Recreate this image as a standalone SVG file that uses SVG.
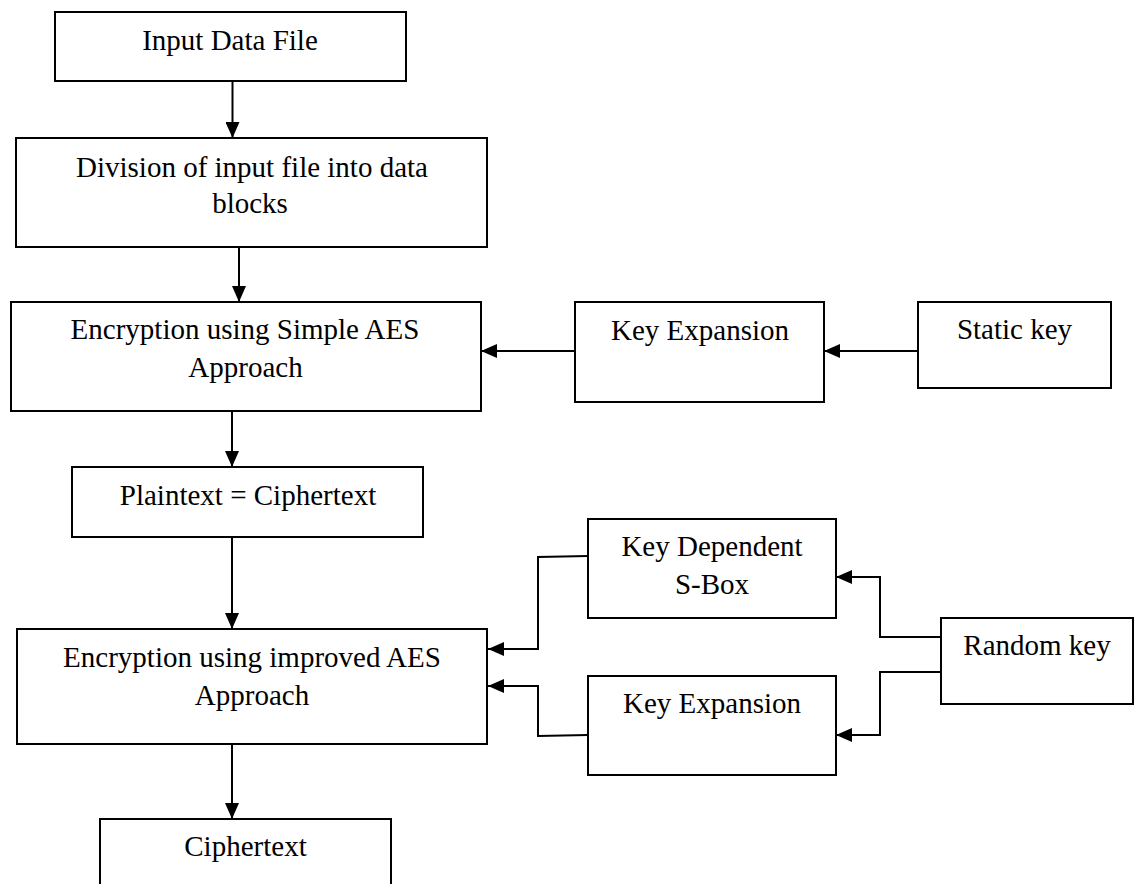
<svg xmlns="http://www.w3.org/2000/svg" width="1137" height="884" viewBox="0 0 1137 884">
<style>
.box{fill:#fff;stroke:#000;stroke-width:2}
.lbl{font-family:"Liberation Serif","Times New Roman",serif;font-size:29px;fill:#000;text-anchor:middle}
.ln{fill:none;stroke:#000;stroke-width:2}
</style>
<defs>
<marker id="ah" markerUnits="userSpaceOnUse" markerWidth="16" markerHeight="14" refX="16" refY="7" orient="auto">
<path d="M0,0 L16,7 L0,14 Z" fill="#000"/>
</marker>
</defs>
<rect width="1137" height="884" fill="#fff"/>
<g id="connectors">
<line class="ln" x1="232.5" y1="81" x2="232.5" y2="138" marker-end="url(#ah)"/>
<line class="ln" x1="239" y1="247" x2="239" y2="302" marker-end="url(#ah)"/>
<line class="ln" x1="232" y1="411" x2="232" y2="467" marker-end="url(#ah)"/>
<line class="ln" x1="232" y1="537" x2="232" y2="629" marker-end="url(#ah)"/>
<line class="ln" x1="232" y1="744" x2="232" y2="819" marker-end="url(#ah)"/>
<line class="ln" x1="575" y1="351" x2="481" y2="351" marker-end="url(#ah)"/>
<line class="ln" x1="918" y1="351" x2="824" y2="351" marker-end="url(#ah)"/>
<polyline class="ln" points="588,556 538,557 538,649 488,649" marker-end="url(#ah)"/>
<polyline class="ln" points="588,735 538,736 538,686 488,686" marker-end="url(#ah)"/>
<polyline class="ln" points="941,637 880,637 880,577 836,577" marker-end="url(#ah)"/>
<polyline class="ln" points="941,672 880,672 880,735 836,735" marker-end="url(#ah)"/>
</g>
<g id="input">
<rect class="box" x="55" y="12" width="351" height="69"/>
<text class="lbl" x="230" y="50">Input Data File</text>
</g>
<g id="division">
<rect class="box" x="16" y="138" width="471" height="109"/>
<text class="lbl" x="252" y="177">Division of input file into data</text>
<text class="lbl" x="250" y="213">blocks</text>
</g>
<g id="simple-aes">
<rect class="box" x="11" y="302" width="470" height="109"/>
<text class="lbl" x="245" y="339">Encryption using Simple AES</text>
<text class="lbl" x="245.5" y="377">Approach</text>
</g>
<g id="key-expansion-1">
<rect class="box" x="575" y="302" width="249" height="100"/>
<text class="lbl" x="700" y="340">Key Expansion</text>
</g>
<g id="static-key">
<rect class="box" x="918" y="302" width="193" height="86"/>
<text class="lbl" x="1014.5" y="339">Static key</text>
</g>
<g id="plain-cipher">
<rect class="box" x="72" y="467" width="351" height="70"/>
<text class="lbl" x="248" y="505">Plaintext = Ciphertext</text>
</g>
<g id="key-dependent-sbox">
<rect class="box" x="588" y="519" width="248" height="99"/>
<text class="lbl" x="712" y="556">Key Dependent</text>
<text class="lbl" x="712" y="594">S-Box</text>
</g>
<g id="random-key">
<rect class="box" x="941" y="618" width="192" height="86"/>
<text class="lbl" x="1037" y="655">Random key</text>
</g>
<g id="improved-aes">
<rect class="box" x="17" y="629" width="470" height="115"/>
<text class="lbl" x="252" y="667">Encryption using improved AES</text>
<text class="lbl" x="252" y="705">Approach</text>
</g>
<g id="key-expansion-2">
<rect class="box" x="588" y="676" width="248" height="99"/>
<text class="lbl" x="712" y="713">Key Expansion</text>
</g>
<g id="ciphertext">
<path class="ln" d="M100,890 V819 H391 V890"/>
<text class="lbl" x="245.5" y="856">Ciphertext</text>
</g>
</svg>
